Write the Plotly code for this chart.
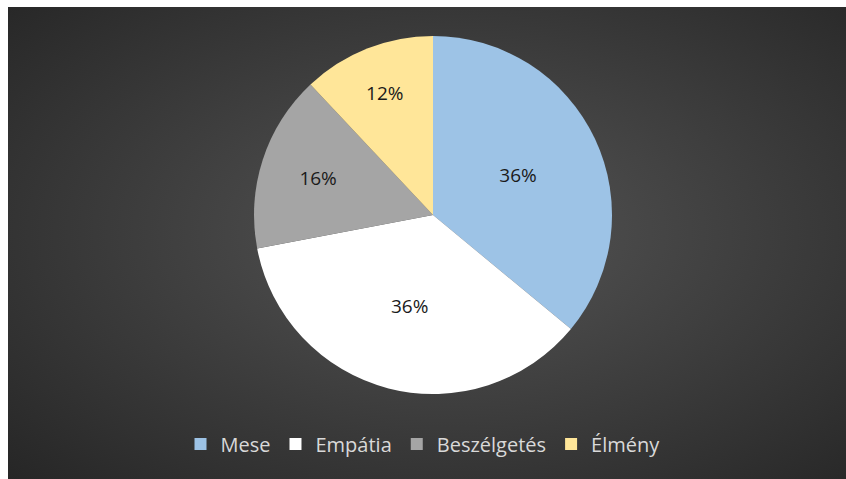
import plotly.graph_objects as go
import urllib.parse

categories = ["Mese", "Empátia", "Beszélgetés", "Élmény"]
values = [9, 9, 4, 3]
colors = ["#9DC3E6", "#FFFFFF", "#A5A5A5", "#FFE699"]

W, H = 846, 479
L, T = 8, 7

svg = (
    "<svg xmlns='http://www.w3.org/2000/svg' viewBox='0 0 100 100' preserveAspectRatio='none'>"
    "<defs><radialGradient id='g' cx='50%' cy='45%' r='70%'>"
    "<stop offset='0%' stop-color='#555555'/>"
    "<stop offset='100%' stop-color='#262626'/>"
    "</radialGradient></defs>"
    "<rect x='0' y='0' width='100' height='100' fill='url(#g)'/></svg>"
)
src = "data:image/svg+xml;charset=utf-8," + urllib.parse.quote(svg)

cx, cy, r = 433, 215, 179

fig = go.Figure(go.Pie(
    labels=categories,
    values=values,
    marker=dict(colors=colors, line=dict(color="#FFFFFF", width=0)),
    sort=False,
    direction="clockwise",
    rotation=0,
    textinfo="percent",
    textposition="inside",
    insidetextorientation="horizontal",
    textfont=dict(family="Open Sans, Liberation Sans, sans-serif", size=19, color="#1a1a1a"),
    domain=dict(x=[(cx - r) / W, (cx + r) / W], y=[(H - cy - r) / H, (H - cy + r) / H]),
    hoverinfo="label+percent",
))

fig.update_layout(
    width=W, height=H,
    margin=dict(l=0, r=0, t=0, b=0),
    paper_bgcolor="#2e2e2e",
    shapes=[
        dict(type="rect", xref="paper", yref="paper", x0=0, x1=1, y0=1 - T / H, y1=1,
             fillcolor="#FFFFFF", line=dict(width=0), layer="above"),
        dict(type="rect", xref="paper", yref="paper", x0=0, x1=L / W, y0=0, y1=1,
             fillcolor="#FFFFFF", line=dict(width=0), layer="above"),
    ],
    images=[dict(source=src, xref="paper", yref="paper", x=L / W, y=1 - T / H,
                 sizex=1.05, sizey=1.05, xanchor="left", yanchor="top",
                 sizing="stretch", layer="below")],
    showlegend=True,
    legend=dict(orientation="h", x=0.5, xanchor="center", y=(H - 444) / H, yanchor="middle",
                font=dict(family="Open Sans, Liberation Sans, sans-serif", size=20, color="#D9D9D9"),
                bgcolor="rgba(0,0,0,0)", itemwidth=30, tracegroupgap=0),
)

fig.write_html("out.html")
